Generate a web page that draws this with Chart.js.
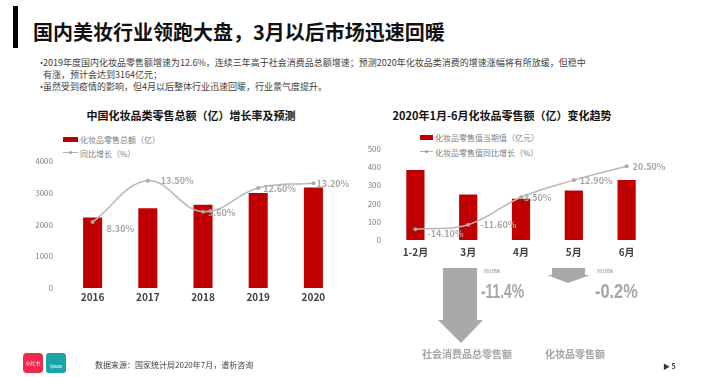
<!DOCTYPE html>
<html>
<head>
<meta charset="utf-8">
<script src="https://cdn.jsdelivr.net/npm/chart.js@4"></script>
<style>
  body { margin: 0; width: 708px; height: 377px; background: #fff; position: relative; overflow: hidden;
         font-family: "Noto Sans CJK SC", "Noto Sans", sans-serif; color: #404040; }
  .abs { position: absolute; white-space: nowrap; }
  .mid { transform: translateY(-50%); }
  .ctr { transform: translate(-50%, -50%); }
  .bullet { font-size: 9px; line-height: 12px; }
  .legend { font-size: 8px; color: #7f7f7f; }
  .big { font-family: "Liberation Sans", Arial, sans-serif; font-weight: bold; font-size: 21px; color: #a6a6a6;
         transform-origin: left center; }
</style>
</head>
<body>
<!-- 标题 -->
<div class="abs" style="left:13px;top:6px;width:5px;height:42px;background:#000"></div>
<div class="abs mid" style="left:33px;top:31px;font-size:20px;font-weight:bold;color:#111">国内美妆行业领跑大盘，3月以后市场迅速回暖</div>

<div class="abs mid bullet" style="left:37px;top:63px">•</div>
<div class="abs mid bullet" style="left:43px;top:63px">2019年度国内化妆品零售额增速为12.6%，连续三年高于社会消费品总额增速；预测2020年化妆品类消费的增速涨幅将有所放缓，但稳中</div>
<div class="abs mid bullet" style="left:43px;top:75px">有涨，预计会达到3164亿元；</div>
<div class="abs mid bullet" style="left:37px;top:87px">•</div>
<div class="abs mid bullet" style="left:43px;top:87px">虽然受到疫情的影响，但4月以后整体行业迅速回暖，行业景气度提升。</div>

<!-- 左图 -->
<div class="abs ctr" style="left:191px;top:115px;font-size:11px;font-weight:bold;color:#111">中国化妆品类零售总额（亿）增长率及预测</div>
<div class="abs" style="left:63px;top:137px;width:15px;height:5px;background:#c00000"></div>
<div class="abs mid legend" style="left:80px;top:139px">化妆品零售总额（亿）</div>
<div class="abs" style="left:63px;top:152px;width:15px;height:1px;background:#b0b0b0"></div>
<div class="abs" style="left:69px;top:151px;width:3px;height:3px;border-radius:50%;background:#a0a0a0"></div>
<div class="abs mid legend" style="left:80px;top:153px">同比增长（%）</div>
<div class="abs" style="left:25px;top:141px"><canvas id="leftChart" width="346" height="169"></canvas></div>

<!-- 右图 -->
<div class="abs ctr" style="left:502px;top:115px;font-size:11px;font-weight:bold;color:#111">2020年1月-6月化妆品零售额（亿）变化趋势</div>
<div class="abs" style="left:420px;top:135px;width:13px;height:5px;background:#c00000"></div>
<div class="abs mid legend" style="left:435px;top:137px">化妆品零售值当期值（亿元）</div>
<div class="abs" style="left:420px;top:151px;width:13px;height:1px;background:#b0b0b0"></div>
<div class="abs" style="left:425px;top:150px;width:3px;height:3px;border-radius:50%;background:#a0a0a0"></div>
<div class="abs mid legend" style="left:435px;top:152px">化妆品零售值同比增长（%）</div>
<div class="abs" style="left:349px;top:129px"><canvas id="rightChart" width="334" height="133"></canvas></div>

<!-- 箭头 -->
<svg class="abs" style="left:0;top:0" width="708" height="377">
  <polygon points="443,268 477,268 477,320 483,320 461,343 438,320 443,320" fill="#a9a9a9"/>
  <polygon points="552,268 585,268 585,275 590,275 568,283 547,275 552,275" fill="#a9a9a9"/>
</svg>
<div class="abs mid" style="left:484px;top:271px;font-size:4px;color:#888">同比增速</div>
<div class="abs mid" style="left:597px;top:271px;font-size:4px;color:#888">同比增速</div>
<div class="abs mid big" style="left:481px;top:291px;transform:translateY(-50%) scaleX(0.66)">-11.4%</div>
<div class="abs mid big" style="left:595px;top:291px;transform:translateY(-50%) scaleX(0.78)">-0.2%</div>
<div class="abs ctr" style="left:467px;top:353px;font-size:10px;font-weight:bold;color:#a6a6a6">社会消费品总零售额</div>
<div class="abs ctr" style="left:575px;top:353px;font-size:10px;font-weight:bold;color:#a6a6a6">化妆品零售额</div>

<!-- 页脚 -->
<div class="abs" style="left:23px;top:353px;width:20px;height:20px;border-radius:4px;background:#ee2a49;color:#fff;font-size:5px;line-height:20px;text-align:center">小红书</div>
<div class="abs" style="left:46px;top:353px;width:20px;height:20px;border-radius:3px;background:#1aa3a8;color:#fff;font-size:5px;line-height:26px;text-align:center;font-family:'Liberation Sans'">Ipsos</div>
<div class="abs mid" style="left:95px;top:364px;font-size:8px;color:#404040">数据来源：国家统计局2020年7月，谱析咨询</div>
<div class="abs mid" style="left:663px;top:366px;font-size:7px;font-weight:bold;color:#333">&#9654;&nbsp;5</div>

<script>
// 左图：年度零售总额与同比增长
const years = ['2016', '2017', '2018', '2019', '2020'];
const yearSales = [2222, 2514, 2619, 2992, 3164];
const yearGrowth = [8.3, 13.5, 9.6, 12.6, 13.2];

// 右图：2020年1-6月零售额与同比增长
const months = ['1-2月', '3月', '4月', '5月', '6月'];
const monthSales = [385, 250, 227, 272, 330];
const monthGrowth = [-14.1, -11.6, 3.5, 12.9, 20.5];

Chart.defaults.font.family = '"Noto Sans CJK SC", "Noto Sans", sans-serif';
Chart.defaults.animation = false;

// 折线上的百分比标签
const growthLabels = {
    id: 'growthLabels',
    afterDatasetsDraw(chart, args, opts) {
        const ctx = chart.ctx;
        const meta = chart.getDatasetMeta(1);
        const values = chart.data.datasets[1].data;
        ctx.save();
        ctx.font = 'bold 9px ' + Chart.defaults.font.family;
        ctx.fillStyle = '#a6a6a6';
        ctx.textAlign = 'left';
        ctx.textBaseline = 'middle';
        meta.data.forEach((pt, i) => {
            const off = opts.offsets[i];
            ctx.fillText(values[i].toFixed(2) + '%', pt.x + off[0], pt.y + off[1]);
        });
        ctx.restore();
    }
};

function makeChart(id, labels, sales, growth, cfg) {
    return new Chart(document.getElementById(id).getContext('2d'), {
        type: 'bar',
        data: {
            labels: labels,
            datasets: [{
                type: 'bar',
                data: sales,
                backgroundColor: '#c00000',
                categoryPercentage: 1,
                barPercentage: 0.345,
                yAxisID: 'y',
                order: 2
            }, {
                type: 'line',
                data: growth,
                borderColor: '#b8b8b8',
                borderWidth: 1.5,
                backgroundColor: '#a8a8a8',
                pointRadius: 2,
                pointBorderWidth: 0,
                tension: 0.4,
                yAxisID: 'y1',
                order: 1
            }]
        },
        options: {
            responsive: false,
            layout: { padding: { top: 20, right: 30, left: 0, bottom: 0 } },
            plugins: {
                legend: { display: false },
                tooltip: { enabled: false },
                growthLabels: { offsets: cfg.offsets }
            },
            scales: {
                x: {
                    grid: { display: false, drawTicks: false },
                    border: { display: false },
                    ticks: { color: '#404040', font: { size: 10, weight: 'bold' }, padding: cfg.xPad },
                    afterFit: s => { s.height = 22; }
                },
                y: {
                    min: 0,
                    max: cfg.yMax,
                    grid: { display: false, drawTicks: false },
                    border: { display: false },
                    ticks: { stepSize: cfg.yStep, color: '#7f7f7f', font: { size: 8 }, padding: cfg.yPad,
                             callback: v => String(v) },
                    afterFit: s => { s.width = 40; }
                },
                y1: {
                    display: false,
                    min: cfg.gMin,
                    max: cfg.gMax
                }
            }
        },
        plugins: [growthLabels]
    });
}

const leftChart = makeChart('leftChart', years, yearSales, yearGrowth, {
    yMax: 4000, yStep: 1000, gMin: 0, gMax: 16, xPad: 3, yPad: 12,
    offsets: [[14, 6], [13, 0], [5, 1], [5, 1], [3, 0]]
});

const rightChart = makeChart('rightChart', months, monthSales, monthGrowth, {
    yMax: 500, yStep: 100, gMin: -20, gMax: 30, xPad: 6, yPad: 8,
    offsets: [[12, 4], [12, 0], [3, 0], [6, 0], [6, 0]]
});
</script>
</body>
</html>
